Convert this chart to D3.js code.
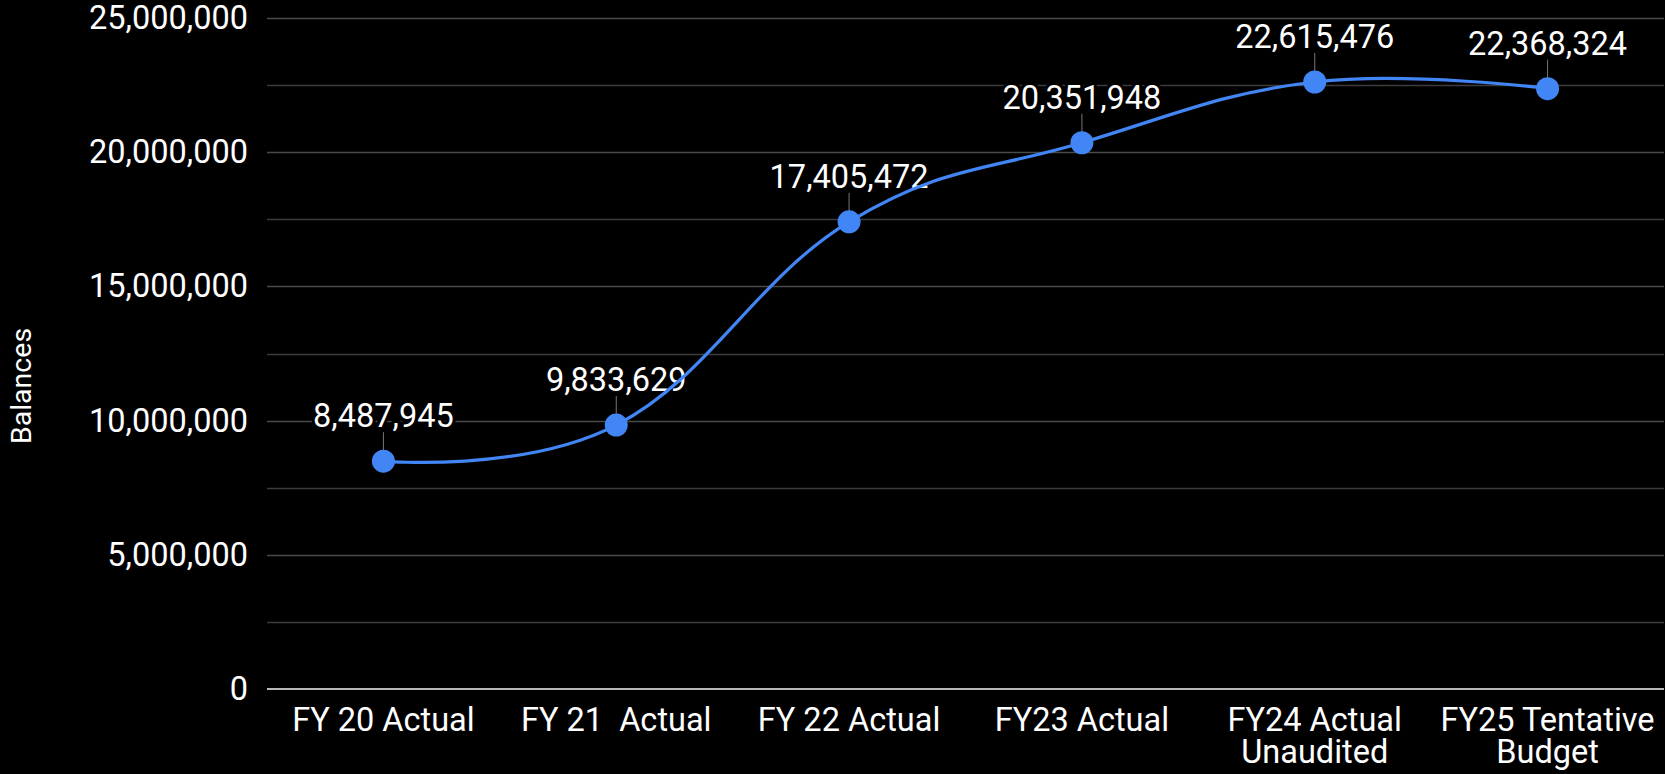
<!DOCTYPE html>
<html>
<head>
<meta charset="utf-8">
<script src="https://cdn.jsdelivr.net/npm/d3@7"></script>
<style>
  html, body { margin: 0; padding: 0; background: #000; }
  svg { display: block; }
  text { font-family: Roboto, "Noto Sans", sans-serif; fill: #fff; }
</style>
</head>
<body>
<div id="chart"></div>
<script>
const categories = [
    "FY 20 Actual",
    "FY 21  Actual",
    "FY 22 Actual",
    "FY23 Actual",
    "FY24 Actual\nUnaudited",
    "FY25 Tentative\nBudget"
];
const balances = [8487945, 9833629, 17405472, 20351948, 22615476, 22368324];
const yTicks = [0, 5000000, 10000000, 15000000, 20000000, 25000000];
const yMinorTicks = [2500000, 7500000, 12500000, 17500000, 22500000];

const width = 1665, height = 774;
const margin = {top: 18, right: 1, bottom: 85, left: 267};
const fontSize = "32.5px";

const data = categories.map((c, i) => ({category: c, value: balances[i]}));

// smooth curve: tangent from neighbours, flat at both ends
const smoothCurve = (context) => {
    let pts;
    return {
        areaStart() {},
        areaEnd() {},
        lineStart() { pts = []; },
        point(x, y) { pts.push([x, y]); },
        lineEnd() {
            const s = 0.2;
            const tan = pts.map((p, i) => {
                if (i === 0 || i === pts.length - 1) return [0, 0];
                return [(pts[i + 1][0] - pts[i - 1][0]) * s, (pts[i + 1][1] - pts[i - 1][1]) * s];
            });
            context.moveTo(pts[0][0], pts[0][1]);
            for (let i = 0; i < pts.length - 1; i++) {
                context.bezierCurveTo(
                    pts[i][0] + tan[i][0], pts[i][1] + tan[i][1],
                    pts[i + 1][0] - tan[i + 1][0], pts[i + 1][1] - tan[i + 1][1],
                    pts[i + 1][0], pts[i + 1][1]);
            }
        }
    };
};

const svg = d3.select("#chart")
    .append("svg")
    .attr("width", width)
    .attr("height", height);

const xScale = d3.scaleBand()
    .domain(categories)
    .range([margin.left, width - margin.right]);

const yScale = d3.scaleLinear()
    .domain([0, 25000000])
    .range([height - margin.bottom, margin.top]);

// grid
const grid = svg.append("g").attr("class", "grid");

grid.selectAll("line.minor")
    .data(yMinorTicks)
    .enter()
    .append("line")
    .attr("class", "minor")
    .attr("x1", margin.left)
    .attr("x2", width - margin.right)
    .attr("y1", d => Math.round(yScale(d)) + 0.5)
    .attr("y2", d => Math.round(yScale(d)) + 0.5)
    .attr("stroke", "#3c3c3c")
    .attr("stroke-width", 1.5);

grid.selectAll("line.major")
    .data(yTicks.filter(d => d > 0))
    .enter()
    .append("line")
    .attr("class", "major")
    .attr("x1", margin.left)
    .attr("x2", width - margin.right)
    .attr("y1", d => Math.round(yScale(d)) + 0.5)
    .attr("y2", d => Math.round(yScale(d)) + 0.5)
    .attr("stroke", "#4a4a4a")
    .attr("stroke-width", 1.5);

// y axis
const yAxis = svg.append("g")
    .attr("transform", "translate(" + margin.left + ",0)")
    .call(d3.axisLeft(yScale)
        .tickValues(yTicks)
        .tickSize(0)
        .tickPadding(19)
        .tickFormat(d3.format(",")));

yAxis.select(".domain").remove();
yAxis.selectAll("text")
    .attr("fill", "#fff")
    .style("font-size", fontSize)
    .style("font-family", "Roboto, sans-serif");

// baseline
svg.append("line")
    .attr("x1", margin.left)
    .attr("x2", width - margin.right)
    .attr("y1", yScale(0))
    .attr("y2", yScale(0))
    .attr("stroke", "#b8b8b8")
    .attr("stroke-width", 2);

// x labels, one text per line
const xLabelLines = [];
categories.forEach(c => {
    c.split("\n").forEach((l, i) => xLabelLines.push({category: c, text: l, row: i}));
});

svg.append("g")
    .attr("class", "x-labels")
    .selectAll("text")
    .data(xLabelLines)
    .enter()
    .append("text")
    .attr("x", d => xScale(d.category) + xScale.bandwidth() / 2)
    .attr("y", d => yScale(0) + 42 + d.row * 32)
    .attr("text-anchor", "middle")
    .style("font-size", fontSize)
    .style("white-space", "pre")
    .text(d => d.text);

// axis title
svg.append("text")
    .attr("transform", "translate(31,386) rotate(-90)")
    .attr("text-anchor", "middle")
    .style("font-size", "28.5px")
    .text("Balances");

const cx = d => xScale(d.category) + xScale.bandwidth() / 2;

// leader lines
svg.append("g")
    .selectAll("line")
    .data(data)
    .enter()
    .append("line")
    .attr("x1", cx)
    .attr("x2", cx)
    .attr("y1", d => yScale(d.value))
    .attr("y2", d => yScale(d.value) - 29)
    .attr("stroke", "#777")
    .attr("stroke-width", 1);

// value labels
svg.append("g")
    .selectAll("text")
    .data(data)
    .enter()
    .append("text")
    .attr("x", cx)
    .attr("y", d => yScale(d.value) - 34)
    .attr("text-anchor", "middle")
    .style("font-size", fontSize)
    .attr("stroke", "#000")
    .attr("stroke-width", 6)
    .attr("paint-order", "stroke")
    .text(d => d3.format(",")(d.value));

// line
const line = d3.line()
    .x(cx)
    .y(d => yScale(d.value))
    .curve(smoothCurve);

svg.append("path")
    .datum(data)
    .attr("d", line)
    .attr("fill", "none")
    .attr("stroke", "#4285f4")
    .attr("stroke-width", 3.2);

svg.append("g")
    .selectAll("circle")
    .data(data)
    .enter()
    .append("circle")
    .attr("cx", cx)
    .attr("cy", d => yScale(d.value))
    .attr("r", 11.5)
    .attr("fill", "#4285f4");
</script>
</body>
</html>
